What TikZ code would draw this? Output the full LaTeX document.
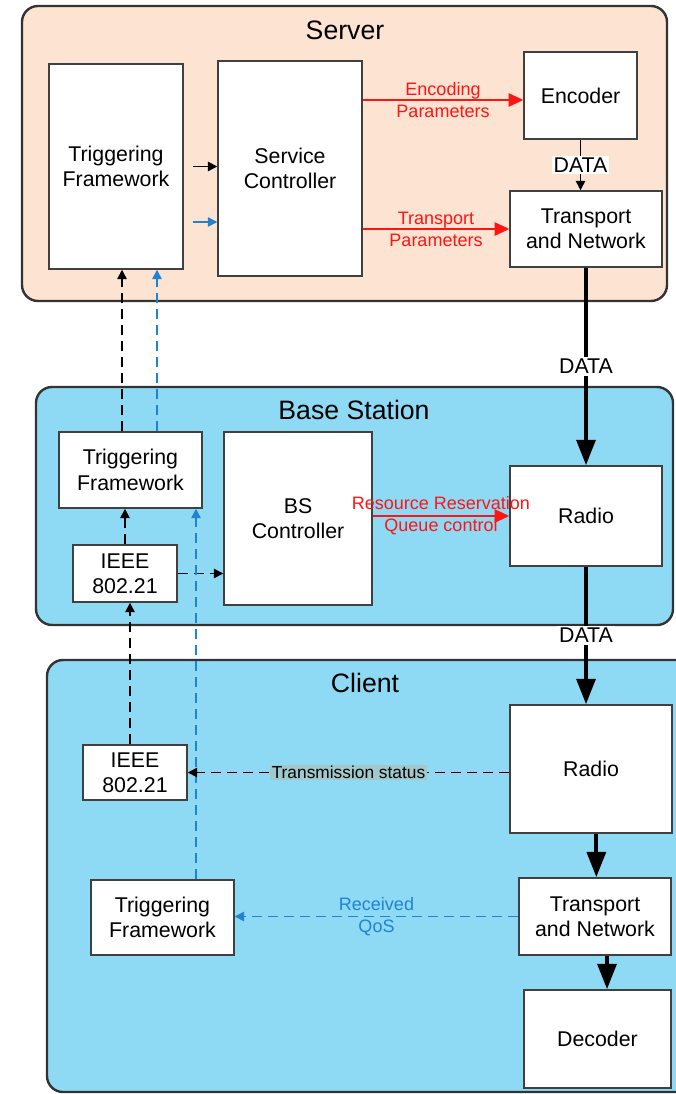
\documentclass[tikz,border=0pt]{standalone}
\usepackage{fontspec}
\setmainfont{Liberation Sans}
\usetikzlibrary{positioning}
\usetikzlibrary{fit}
\usetikzlibrary{arrows.meta}

\definecolor{serverbg}{RGB}{252,227,210}
\definecolor{panelbg}{RGB}{142,218,245}
\definecolor{linkblue}{RGB}{33,130,210}
\definecolor{linkred}{RGB}{255,20,20}
\definecolor{statusbg}{RGB}{160,200,205}

\tikzset{
	panel/.style = {draw = black!80, line width = 1.8pt, rounded corners = 12pt, inner sep = 0pt},
	paneltitle/.style = {font = \fontsize{20}{24}\selectfont},
	box/.style = {draw = black!75, line width = 1.1pt, fill = white, inner sep = 0pt, align = center, font = \fontsize{16}{19}\selectfont},
	thinarrow/.style = {black, line width = 1.1pt, -{Triangle[length = 7pt, width = 7pt]}},
	bluearrow/.style = {linkblue, line width = 1.1pt, -{Triangle[length = 7pt, width = 7pt]}},
	redarrow/.style = {linkred, line width = 1.2pt, -{Triangle[length = 11pt, width = 10pt]}},
	dataarrow/.style = {black, line width = 3pt, -{Triangle[length = 19pt, width = 14pt]}},
	dashk/.style = {thinarrow, dash pattern = on 7.5pt off 4.5pt},
	dashb/.style = {bluearrow, dash pattern = on 7.5pt off 4.5pt},
	redlabel/.style = {linkred, align = center, font = \fontsize{13.5}{16.5}\selectfont},
	bluelabel/.style = {linkblue, align = center, font = \fontsize{13.5}{16.5}\selectfont},
	datalabel/.style = {fill = white, inner sep = 1.5pt, font = \fontsize{16}{19}\selectfont},
	statuslabel/.style = {fill = statusbg, inner sep = 1pt, font = \fontsize{13}{15}\selectfont}
}

\begin{document}
\begin{tikzpicture}[x = 0.75pt, y = -0.75pt]
	\useasboundingbox (0, 0) rectangle (675, 1094);
	\node[panel, fill = serverbg, fit = {(22, 6) (667, 301)}] (server) {};
	\node[paneltitle] (servertitle) at (345, 30) {Server};
	\node[panel, fill = panelbg, fit = {(36, 387) (673, 625)}] (bs) {};
	\node[paneltitle] (bstitle) at (354, 410) {Base Station};
	\node[panel, fill = panelbg, fit = {(47, 660) (700, 1092)}] (client) {};
	\node[paneltitle] (clienttitle) at (365, 683) {Client};

	\node[box, minimum width = 100.5pt, minimum height = 153.75pt] (stf) at (116, 166.5) {Triggering\\Framework};
	\node[box, minimum width = 108pt, minimum height = 161.25pt] (sc) at (290, 168.5) {Service\\Controller};
	\node[box, minimum width = 84.75pt, minimum height = 65.25pt] (enc) at (580.5, 95.5) {Encoder};
	\node[box, minimum width = 114pt, minimum height = 57pt] (stn) at (586, 229) {Transport\\and Network};

	\node[box, minimum width = 107.25pt, minimum height = 57pt] (btf) at (130.5, 470) {Triggering\\Framework};
	\node[box, minimum width = 78pt, minimum height = 42.75pt] (bieee) at (125, 573.5) {IEEE\\802.21};
	\node[box, minimum width = 111pt, minimum height = 129.75pt] (bsc) at (298, 518.5) {BS\\Controller};
	\node[box, minimum width = 114pt, minimum height = 75pt] (brad) at (586, 516) {Radio};

	\node[box, minimum width = 78pt, minimum height = 41.25pt] (cieee) at (135, 772.5) {IEEE\\802.21};
	\node[box, minimum width = 107.25pt, minimum height = 56.25pt] (ctf) at (162.5, 917.5) {Triggering\\Framework};
	\node[box, minimum width = 121.5pt, minimum height = 96pt] (crad) at (591, 769) {Radio};
	\node[box, minimum width = 114pt, minimum height = 57.75pt] (ctn) at (595, 916.5) {Transport\\and Network};
	\node[box, minimum width = 110.25pt, minimum height = 73.5pt] (dec) at (597.5, 1039) {Decoder};

	\coordinate (xk1) at (122, 0);
	\coordinate (xb1) at (157, 0);
	\coordinate (xb2) at (196, 0);
	\coordinate (xk2) at (130, 0);
	\coordinate (yb) at (0, 222);
	\coordinate (ye) at (0, 100);

	\draw[thinarrow] ([xshift = 7pt]stf.east) -- (stf.east -| sc.west);
	\draw[bluearrow] ([xshift = 7pt]stf.east |- yb) -- (sc.west |- yb);
	\draw[redarrow] (sc.east |- ye) -- node[redlabel] {Encoding\\Parameters} (enc.west |- ye);
	\draw[redarrow] (sc.east |- stn.west) -- node[redlabel] {Transport\\Parameters} (stn.west);
	\draw[thinarrow] (enc.south) -- node[datalabel] {DATA} (enc.south |- stn.north);

	\draw[dataarrow] (stn.south) -- node[datalabel] {DATA} (stn.south |- brad.north);
	\draw[dataarrow] (brad.south) -- node[datalabel, pos = 0.5] {DATA} (brad.south |- crad.north);
	\draw[redarrow] (bsc.east |- brad.west) -- node[redlabel] {Resource Reservation\\Queue control} (brad.west);

	\draw[dashk] (btf.north -| xk1) -- (stf.south -| xk1);
	\draw[dashb] (btf.north -| xb1) -- (stf.south -| xb1);
	\draw[dashk] (bieee.north) -- (btf.south -| bieee.north);
	\draw[dashk] (bieee.east) -- (bsc.west |- bieee.east);
	\draw[dashb] (ctf.north -| xb2) -- (btf.south -| xb2);
	\draw[dashk] (cieee.north -| xk2) -- (bieee.south -| xk2);

	\draw[dashk] (crad.west |- cieee.east) -- node[statuslabel] {Transmission status} (cieee.east);
	\draw[dashb] (ctn.west) -- node[bluelabel] {Received\\QoS} (ctf.east |- ctn.west);
	\draw[dataarrow] ([xshift = 4pt]crad.south) -- ([xshift = 4pt]crad.south |- ctn.north);
	\draw[dataarrow] ([xshift = 9pt]ctn.south) -- ([xshift = 9pt]ctn.south |- dec.north);
\end{tikzpicture}
\end{document}
